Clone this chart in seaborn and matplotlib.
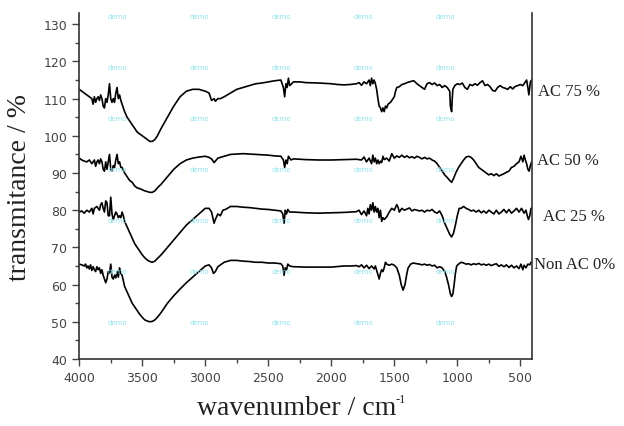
import matplotlib
matplotlib.use("Agg")
import matplotlib.pyplot as plt
import matplotlib.transforms as mtransforms
import seaborn as sns
from matplotlib.ticker import MultipleLocator

# FTIR spectra (wavenumber, transmitance)
wn_75 = [4000, 3980, 3960, 3940, 3920, 3900, 3890, 3880, 3870, 3860, 3850, 3840, 3830, 3820, 3810, 3800,
         3790, 3780, 3770, 3760, 3750, 3740, 3730, 3720, 3710, 3700, 3690, 3680, 3670, 3660, 3640, 3620,
         3600, 3580, 3560, 3540, 3520, 3500, 3480, 3460, 3440, 3420, 3400, 3380, 3350, 3300, 3250, 3200,
         3150, 3100, 3050, 3000, 2970, 2950, 2930, 2920, 2900, 2880, 2850, 2800, 2750, 2700, 2650, 2600,
         2550, 2500, 2450, 2400, 2380, 2370, 2360, 2350, 2340, 2330, 2300, 2250, 2200, 2100, 2000, 1950,
         1900, 1850, 1800, 1780, 1760, 1740, 1720, 1700, 1690, 1680, 1670, 1660, 1650, 1640, 1630, 1620,
         1610, 1600, 1590, 1580, 1570, 1560, 1550, 1530, 1510, 1500, 1490, 1480, 1460, 1440, 1420, 1400,
         1380, 1360, 1345, 1320, 1300, 1280, 1260, 1240, 1220, 1200, 1180, 1160, 1140, 1120, 1100, 1080,
         1060, 1055, 1045, 1040, 1035, 1020, 1000, 980, 960, 940, 920, 900, 880, 860, 840, 820,
         800, 780, 760, 740, 720, 700, 680, 660, 640, 620, 600, 580, 560, 540, 520, 500,
         480, 460, 450, 440, 432, 420, 410]
t_75 = [112.5, 112, 111.5, 111, 110.5, 110, 108.5, 110.5, 109, 110, 110.5, 109.5, 111, 110, 108, 107.5,
        110, 109, 111, 114, 110, 109, 110, 109, 111.5, 113, 110, 111, 109.5, 108.5, 106.5, 105,
        104, 103, 102, 101, 100.5, 100, 99.5, 99, 98.5, 98.5, 99, 100, 102, 105, 108, 110.5,
        112, 112.5, 112.5, 112, 111.5, 109.5, 110, 109.3, 110, 110, 110.5, 111.5, 112.5, 113, 113.5, 114,
        114.2, 114.5, 114.8, 115, 113, 110.5, 114, 113, 115.5, 113.5, 114.5, 114.5, 114.3, 114.2, 114, 113.8,
        113.7, 113.8, 114, 114.3, 113.6, 114.5, 114, 115, 113.5, 115.5, 114, 115, 114, 112.5, 110, 108,
        107.5, 106.5, 107.5, 106.5, 108, 107.5, 108.5, 109, 110, 110.5, 112, 113, 113.2, 113.8, 114, 114.3,
        114.5, 114.7, 114.8, 114, 113.5, 113, 112.5, 114, 114.3, 113.8, 114.2, 113.5, 113.8, 113, 113.5, 113,
        112, 108, 106.5, 110, 112.5, 113.5, 114, 113.8, 114.2, 113, 112.5, 113.8, 113.5, 114, 113.6, 114.3,
        114.8, 113.5, 113.8, 113.2, 112.2, 112, 113, 113.5, 113, 112.8, 112.5, 113.2, 112.6, 113.3, 113.5, 113.8,
        113.5, 114.5, 115, 113, 111, 114.5, 115]

wn_50 = [4000, 3980, 3960, 3940, 3920, 3900, 3880, 3870, 3860, 3850, 3840, 3830, 3820, 3810, 3800, 3790,
         3780, 3770, 3760, 3750, 3740, 3730, 3720, 3710, 3700, 3690, 3680, 3670, 3660, 3640, 3620, 3600,
         3580, 3560, 3540, 3520, 3500, 3480, 3460, 3440, 3420, 3400, 3380, 3350, 3300, 3250, 3200, 3150,
         3100, 3050, 3000, 2970, 2950, 2930, 2920, 2900, 2850, 2800, 2700, 2600, 2500, 2450, 2400, 2380,
         2370, 2360, 2350, 2340, 2320, 2300, 2200, 2100, 2000, 1900, 1800, 1760, 1740, 1720, 1700, 1680,
         1670, 1660, 1650, 1640, 1630, 1620, 1610, 1600, 1590, 1580, 1560, 1540, 1520, 1500, 1480, 1460,
         1440, 1420, 1400, 1380, 1360, 1340, 1320, 1300, 1280, 1260, 1240, 1220, 1200, 1180, 1160, 1140,
         1120, 1100, 1080, 1060, 1045, 1030, 1010, 990, 970, 950, 930, 910, 890, 870, 850, 830,
         810, 790, 770, 750, 730, 710, 690, 670, 650, 630, 610, 590, 570, 550, 530, 510,
         495, 480, 470, 460, 450, 440, 430, 420, 410]
t_50 = [94, 93.5, 93.2, 93, 93.5, 92.5, 93.5, 91.8, 93, 93.5, 92.5, 93.8, 93, 91, 90.5, 93,
        91, 93, 95, 91, 90.5, 92, 91.5, 93.5, 95, 92.5, 93, 91.5, 91.5, 90, 89, 88,
        87.5, 86.5, 86, 85.8, 85.5, 85.2, 85, 84.8, 84.8, 85.2, 86, 87, 89, 91, 92.5, 93.5,
        94, 94.3, 94.5, 94.2, 93.8, 92.8, 93.2, 94, 94.5, 95, 95.2, 95, 94.8, 94.6, 94.5, 93.5,
        91.5, 93.5, 92.5, 94.5, 93.5, 93.8, 93.6, 93.5, 93.5, 93.6, 93.7, 93.5, 94.3, 93, 94, 92.5,
        94.8, 93, 94, 92.5, 93.5, 92.5, 93.2, 92.8, 94.5, 93.6, 94, 93.2, 95.2, 94, 94.6, 94.2,
        94.8, 94.2, 94.6, 94.1, 94.4, 94, 94.5, 94.2, 93.8, 94.2, 93.8, 94, 93.5, 93.2, 92.5, 91.5,
        90.5, 89.5, 88.8, 88, 87.5, 88.5, 90.2, 91.5, 92.5, 93.5, 94.3, 94.5, 94.2, 93.5, 92.5, 91.5,
        91, 90.5, 90, 89.5, 89.8, 89.3, 89.8, 89.2, 89.5, 89.8, 90.2, 90.5, 91.5, 91.8, 92.5, 93,
        94.5, 93, 94.8, 93.5, 92.5, 91, 90.5, 92, 93]

wn_25 = [4000, 3980, 3960, 3940, 3920, 3900, 3890, 3880, 3860, 3840, 3830, 3820, 3810, 3800, 3790, 3780,
         3770, 3760, 3750, 3740, 3730, 3720, 3710, 3700, 3690, 3680, 3670, 3660, 3650, 3640, 3620, 3600,
         3580, 3560, 3540, 3520, 3500, 3480, 3460, 3440, 3420, 3400, 3380, 3350, 3300, 3250, 3200, 3150,
         3100, 3050, 3000, 2970, 2950, 2930, 2920, 2900, 2880, 2860, 2840, 2800, 2750, 2700, 2650, 2600,
         2550, 2500, 2450, 2400, 2385, 2375, 2365, 2355, 2345, 2330, 2300, 2200, 2100, 2000, 1900, 1850,
         1800, 1780, 1760, 1740, 1720, 1710, 1700, 1690, 1680, 1670, 1660, 1650, 1640, 1630, 1620, 1610,
         1600, 1590, 1580, 1560, 1540, 1520, 1500, 1480, 1470, 1460, 1440, 1420, 1400, 1380, 1360, 1340,
         1320, 1300, 1280, 1260, 1240, 1220, 1200, 1180, 1160, 1140, 1120, 1100, 1080, 1060, 1045, 1030,
         1015, 1000, 985, 970, 950, 930, 910, 890, 870, 850, 830, 810, 790, 770, 750, 730,
         710, 690, 670, 650, 630, 610, 590, 570, 550, 530, 510, 490, 470, 455, 445, 435,
         425, 415]
t_25 = [79.5, 79.8, 79.2, 80, 79.5, 80.5, 79, 80.5, 81, 80, 81.5, 82, 80.5, 79.5, 82.5, 82,
        78.5, 78.5, 83.5, 79, 77.5, 78.5, 79.5, 79, 78, 78.5, 78, 79.5, 78.5, 77, 75.5, 74,
        72.5, 71, 70, 69, 68, 67.2, 66.6, 66.2, 66, 66.3, 67, 68, 70, 72, 74, 76,
        77.5, 79, 80.5, 80.5, 79.5, 76.5, 77.5, 79, 78.5, 80, 80.2, 81, 81, 80.8, 80.7, 80.5,
        80.3, 80.2, 80, 79.8, 79, 76.5, 80, 79, 80.2, 79.5, 79.5, 79.3, 79.2, 79.3, 79.4, 79.5,
        79.6, 80, 78.8, 79.8, 78.5, 80.5, 79, 81.5, 80, 82, 79.5, 81, 79.5, 80.5, 78, 80,
        77, 78, 77.5, 78.2, 79.5, 80.5, 80, 81.5, 80.8, 79.5, 80.5, 80, 80.3, 80.6, 79.8, 80.2,
        80, 79.8, 80, 79.5, 80, 79.8, 80.2, 79.5, 79.2, 79.8, 78.5, 76.5, 75, 73.5, 72.8, 73.8,
        76, 78.5, 80.5, 80.5, 81, 80.5, 80.2, 79.8, 80, 79.5, 80, 79.3, 79.8, 79.2, 80, 79.5,
        79, 80, 79, 79.5, 80.2, 79.3, 80.2, 79.2, 79.8, 80.5, 79.5, 80.5, 79.2, 80, 78.5, 77.5,
        78.5, 80.5]

wn_0 = [4000, 3980, 3960, 3950, 3940, 3930, 3920, 3910, 3900, 3890, 3880, 3870, 3860, 3850, 3840, 3830,
        3820, 3810, 3800, 3790, 3780, 3770, 3760, 3750, 3740, 3730, 3720, 3710, 3700, 3690, 3680, 3670,
        3660, 3650, 3640, 3620, 3600, 3580, 3560, 3540, 3520, 3500, 3480, 3460, 3440, 3420, 3400, 3380,
        3350, 3300, 3250, 3200, 3150, 3100, 3050, 3000, 2970, 2950, 2935, 2920, 2900, 2870, 2850, 2800,
        2750, 2700, 2650, 2600, 2550, 2500, 2450, 2400, 2385, 2375, 2365, 2355, 2345, 2330, 2300, 2200,
        2100, 2000, 1900, 1850, 1800, 1780, 1760, 1740, 1720, 1700, 1680, 1660, 1650, 1640, 1630, 1620,
        1610, 1600, 1590, 1580, 1570, 1560, 1540, 1520, 1500, 1480, 1460, 1445, 1430, 1415, 1400, 1390,
        1370, 1350, 1320, 1300, 1280, 1260, 1240, 1220, 1200, 1180, 1160, 1140, 1120, 1100, 1085, 1070,
        1055, 1045, 1035, 1025, 1015, 1005, 990, 970, 950, 930, 910, 890, 870, 850, 830, 810,
        790, 770, 750, 730, 710, 690, 670, 650, 630, 610, 590, 570, 550, 530, 510, 495,
        480, 470, 455, 440, 425, 415]
t_0 = [65.5, 65.3, 65, 65.5, 64.5, 65, 64.2, 65.3, 63.8, 64.8, 64, 63.5, 64.8, 64, 64.5, 63,
       64, 62.5, 61.5, 60.5, 61.5, 63.5, 63, 65.5, 62, 61.5, 62.5, 61.8, 63.5, 62, 64.5, 63,
       62.5, 61, 59.5, 58, 56.5, 55, 54, 53, 52, 51.2, 50.5, 50.2, 50, 50.1, 50.5, 51.2,
       52.5, 55, 57, 58.8, 60.5, 62, 63.5, 65, 65.3, 64.5, 63, 63.5, 64.8, 65.5, 66, 66.5,
       66.5, 66.3, 66.2, 66, 66, 65.8, 65.8, 65.6, 65, 62.5, 64.5, 64, 65.5, 65, 64.8, 64.7,
       64.7, 64.7, 65, 65, 65.1, 64.8, 65.3, 64.5, 65.2, 64.3, 65, 64.2, 65, 63.8, 62.5, 61.5,
       63, 64, 63.5, 64.5, 66, 65.5, 65.2, 65.5, 65.2, 64.5, 62.5, 60, 58.5, 60, 63, 64.5,
       65.5, 65.8, 65.6, 65.5, 65.3, 65.5, 65.2, 65.4, 65, 65.2, 64.5, 64.8, 64.5, 63.5, 62, 60,
       57.5, 56.8, 57.5, 60, 63, 65, 65.5, 66, 65.8, 65.5, 65.6, 65.3, 65.6, 65.4, 65.7, 65.3,
       65.5, 65.2, 65.5, 65.1, 65.4, 65.6, 64.9, 65.3, 64.8, 65.3, 64.6, 65.2, 64.5, 65, 64.3, 65.5,
       64, 65.2, 64.5, 65.5, 65.3, 66]

series = [(wn_75, t_75), (wn_50, t_50), (wn_25, t_25), (wn_0, t_0)]
labels = ["AC 75 %", "AC 50 %", "AC 25 %", "Non AC 0%"]
label_y = [112, 93.5, 78.5, 65.5]
label_x = [0.862, 0.861, 0.870, 0.856]

sns.set_style("ticks")
plt.rcParams["font.family"] = ["DejaVu Sans"]

fig = plt.figure(figsize=(6.24, 4.27), dpi=100)
ax = fig.add_axes([0.127, 0.157, 0.726, 0.810])

for wn, t in series:
    sns.lineplot(x=wn, y=t, ax=ax, color="black", lw=1.2, sort=False, estimator=None)

ax.set_xlim(4000, 405)
ax.set_ylim(40, 133)
ax.xaxis.set_major_locator(MultipleLocator(500))
ax.xaxis.set_minor_locator(MultipleLocator(250))
ax.yaxis.set_major_locator(MultipleLocator(10))
ax.yaxis.set_minor_locator(MultipleLocator(5))
ax.tick_params(which="major", direction="out", length=5, width=1, colors="#444444", labelsize=9)
ax.tick_params(which="minor", direction="out", length=3, width=1, colors="#444444")
for s in ["left", "bottom", "right"]:
    ax.spines[s].set_color("#333333")
    ax.spines[s].set_linewidth(1.2)
ax.spines["top"].set_visible(False)

# axis titles (superscript drawn as a small separate text, as in the picture)
ax.set_xlabel("wavenumber / cm", family="Liberation Serif", fontsize=20, color="#222222")
ax.xaxis.set_label_coords(0.479, -0.105)
ax.text(0.698, -0.098, "-1", transform=ax.transAxes, family="Liberation Serif",
        fontsize=9, color="#222222", ha="left", va="top")
ax.set_ylabel("transmitance / %", family="Liberation Serif", fontsize=20, color="#222222",
              labelpad=8)

blend = mtransforms.blended_transform_factory(fig.transFigure, ax.transData)
for lab, ly, lx in zip(labels, label_y, label_x):
    ax.text(lx, ly, lab, transform=blend, family="Liberation Serif",
            fontsize=12, color="#222222", va="center", ha="left", clip_on=False)

# faint watermark marks
for cx in [117, 199, 281, 363, 445]:
    for cy in [17, 68, 119, 170, 221, 272, 323]:
        fig.text(cx / 624, 1 - cy / 427, "demo", fontsize=5, color="#8fe3ea",
                 ha="center", va="center", zorder=0)

fig.savefig("out.png", dpi=100)
